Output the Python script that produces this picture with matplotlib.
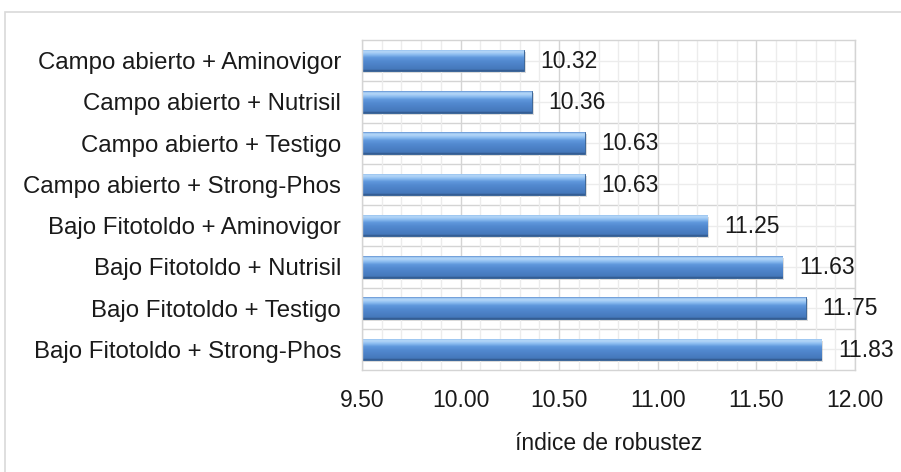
import numpy as np
import matplotlib.pyplot as plt
from matplotlib.colors import LinearSegmentedColormap
from matplotlib.patches import Rectangle

plt.rcParams['font.family'] = ['Liberation Sans', 'DejaVu Sans']

# data (top to bottom as shown)
categories = ['Campo abierto + Aminovigor', 'Campo abierto + Nutrisil',
              'Campo abierto + Testigo', 'Campo abierto + Strong-Phos',
              'Bajo Fitotoldo + Aminovigor', 'Bajo Fitotoldo + Nutrisil',
              'Bajo Fitotoldo + Testigo', 'Bajo Fitotoldo + Strong-Phos']
values = [10.32, 10.36, 10.63, 10.63, 11.25, 11.63, 11.75, 11.83]
xticks = [9.5, 10.0, 10.5, 11.0, 11.5, 12.0]
xlabel = 'índice de robustez'

xmin, xmax = 9.5, 12.0
bar_h = 0.52
fs = 16.5

# bar shading, bottom -> top
bar_cmap = LinearSegmentedColormap.from_list('bar', [
    (0.0, '#30568a'), (0.08, '#4578bb'), (0.45, '#5289d0'), (0.62, '#6098dc'),
    (0.75, '#8bbcf0'), (0.88, '#b5d7f8'), (0.95, '#a0c8f2'), (1.0, '#5f8fd0')])

fig = plt.figure(figsize=(9.01, 4.72), dpi=100)
ax = fig.add_axes([362 / 901, 1 - 370 / 472, (855 - 362) / 901, (370 - 40) / 472])

# outer chart frame
fig.add_artist(Rectangle((5 / 901, -0.1), 1.2, 1.1 - 11.5 / 472, transform=fig.transFigure,
                         fill=False, edgecolor='#d9d9d9', lw=1.2))

n = len(categories)
pos = np.arange(n)[::-1]

# grid
ax.set_xticks(xticks)
ax.set_xticks(np.arange(xmin, xmax + 0.001, 0.1), minor=True)
ax.grid(axis='x', which='major', color='#d4d4d4', lw=1.0, zorder=0)
ax.grid(axis='x', which='minor', color='#ececec', lw=1.0, zorder=0)
ax.hlines(pos[:-1] - 0.5, xmin, xmax, color='#d4d4d4', lw=1.0, zorder=0)
ax.hlines(pos, xmin, xmax, color='#ececec', lw=1.0, zorder=0)

# soft shadow under bars
ax.barh(pos - 0.05, [v - xmin + 0.01 for v in values], left=xmin, height=bar_h,
        color='#9a9a9a', alpha=0.35, lw=0, zorder=1.5)

grad = np.linspace(0, 1, 100).reshape(-1, 1)
bars = ax.barh(pos, [v - xmin for v in values], left=xmin, height=bar_h,
               color='#4f81bd', edgecolor='#2f5c92', lw=0.6, zorder=2)
for b, p, v in zip(bars, pos, values):
    im = ax.imshow(grad, cmap=bar_cmap, origin='lower', aspect='auto',
                   extent=(xmin, v, p - bar_h / 2, p + bar_h / 2), zorder=2.5)
    im.set_clip_path(b)
    ax.text(v + 0.085, p - 0.02, f'{v:.2f}', va='center', ha='left',
            fontsize=fs, color='#1a1a1a', zorder=3)

ax.set_xlim(xmin, xmax)
ax.set_ylim(-0.5, n - 0.5)
ax.set_yticks(pos)
ax.set_yticklabels(categories)
ax.set_xticklabels([f'{t:.2f}' for t in xticks])
ax.tick_params(axis='y', length=0, pad=15, labelsize=17.3, labelcolor='#1a1a1a')
ax.tick_params(axis='x', which='both', length=0, pad=14, labelsize=fs, labelcolor='#1a1a1a')
ax.set_xlabel(xlabel, fontsize=fs, labelpad=14, color='#1a1a1a')

for s in ax.spines.values():
    s.set_color('#d4d4d4')
    s.set_linewidth(1.0)

fig.savefig('out.png', dpi=100)
